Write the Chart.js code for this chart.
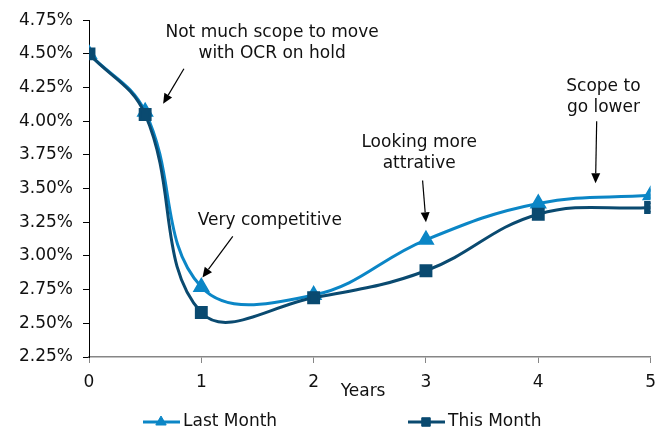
<!DOCTYPE html>
<html>
<head>
<meta charset="utf-8">
<script src="https://cdn.jsdelivr.net/npm/chart.js@4.4.1/dist/chart.umd.min.js"></script>
<style>
  html, body { margin: 0; padding: 0; background: #fff; }
  #wrap { width: 665px; height: 432px; }
</style>
</head>
<body>
<div id="wrap"><canvas id="rates"></canvas></div>
<script>
// Term deposit rate curve, last month vs this month

const YEARS = [0, 0.5, 1, 2, 3, 4, 5];
const LAST_MONTH = [4.50, 4.07, 2.77, 2.71, 3.12, 3.39, 3.45];
const THIS_MONTH = [4.50, 4.05, 2.58, 2.69, 2.89, 3.31, 3.36];
const SERIES_NAMES = ['Last Month', 'This Month'];
const X_TITLE = 'Years';

// callouts: text lines anchored in data units, arrow from -> to
const NOTES = [
  { lines: ['Not much scope to move', 'with OCR on hold'], at: [1.63, 4.66], from: [0.845, 4.39], to: [0.66, 4.13] },
  { lines: ['Very competitive'], at: [1.61, 3.26], from: [1.28, 3.145], to: [1.01, 2.84] },
  { lines: ['Looking more', 'attrative'], at: [2.94, 3.84], from: [2.97, 3.56], to: [3.0, 3.25] },
  { lines: ['Scope to', 'go lower'], at: [4.58, 4.26], from: [4.52, 4.0], to: [4.51, 3.54] }
];

const LIGHT = '#0b86c6';
const DARK = '#0a4a70';
const FONT = 'DejaVu Sans, Verdana, sans-serif';

const calloutPlugin = {
  id: 'callouts',
  afterDatasetsDraw(chart) {
    const ctx = chart.ctx;
    const xs = chart.scales.x, ys = chart.scales.y;
    ctx.save();
    ctx.font = '17px ' + FONT;
    ctx.fillStyle = '#111';
    ctx.textAlign = 'center';
    ctx.textBaseline = 'middle';
    NOTES.forEach(n => {
      const tx = xs.getPixelForValue(n.at[0]);
      const ty = ys.getPixelForValue(n.at[1]);
      n.lines.forEach((l, i) => ctx.fillText(l, tx, ty + i * 21));

      const x1 = xs.getPixelForValue(n.from[0]), y1 = ys.getPixelForValue(n.from[1]);
      const x2 = xs.getPixelForValue(n.to[0]), y2 = ys.getPixelForValue(n.to[1]);
      const ang = Math.atan2(y2 - y1, x2 - x1);
      const head = 10, half = 4.5;
      ctx.strokeStyle = '#000';
      ctx.lineWidth = 1.2;
      ctx.beginPath();
      ctx.moveTo(x1, y1);
      ctx.lineTo(x2 - Math.cos(ang) * head, y2 - Math.sin(ang) * head);
      ctx.stroke();
      ctx.fillStyle = '#000';
      ctx.beginPath();
      ctx.moveTo(x2, y2);
      ctx.lineTo(x2 - Math.cos(ang) * head - Math.sin(ang) * half, y2 - Math.sin(ang) * head + Math.cos(ang) * half);
      ctx.lineTo(x2 - Math.cos(ang) * head + Math.sin(ang) * half, y2 - Math.sin(ang) * head - Math.cos(ang) * half);
      ctx.closePath();
      ctx.fill();
      ctx.fillStyle = '#111';
    });

    // axis title sits on the tick-label row, as in the original
    ctx.fillText(X_TITLE, xs.getPixelForValue(2.44), xs.bottom - 40);
    ctx.restore();
  },
  afterDraw(chart) {
    // legend: line + marker, then label
    const ctx = chart.ctx;
    const items = [
      { x: 143, ds: chart.data.datasets[0] },
      { x: 408, ds: chart.data.datasets[1] }
    ];
    const y = 422;
    ctx.save();
    items.forEach(it => {
      ctx.strokeStyle = it.ds.borderColor;
      ctx.lineWidth = 3;
      ctx.beginPath();
      ctx.moveTo(it.x, y);
      ctx.lineTo(it.x + 37, y);
      ctx.stroke();
      ctx.fillStyle = it.ds.pointBackgroundColor;
      ctx.strokeStyle = it.ds.borderColor;
      ctx.lineWidth = 1;
      Chart.helpers.drawPoint(ctx, { pointStyle: it.ds.pointStyle, radius: it.ds.pointRadius - 1, borderWidth: 1 }, it.x + 18, y);
      ctx.fillStyle = '#111';
      ctx.font = '17px ' + FONT;
      ctx.textAlign = 'left';
      ctx.textBaseline = 'middle';
      ctx.fillText(it.ds.label, it.x + 40, y);
    });
    ctx.restore();
  }
};

function toPoints(vals) {
  return YEARS.map((x, i) => ({ x: x, y: vals[i] }));
}

new Chart(document.getElementById('rates'), {
  type: 'line',
  data: {
    datasets: [
      {
        label: SERIES_NAMES[0],
        data: toPoints(LAST_MONTH),
        borderColor: LIGHT,
        backgroundColor: LIGHT,
        pointBackgroundColor: LIGHT,
        pointStyle: 'triangle',
        pointRadius: 7,
        borderWidth: 3,
        tension: 0.4,
        order: 2
      },
      {
        label: SERIES_NAMES[1],
        data: toPoints(THIS_MONTH),
        borderColor: DARK,
        backgroundColor: DARK,
        pointBackgroundColor: DARK,
        pointStyle: 'rect',
        pointRadius: 7,
        borderWidth: 3,
        tension: 0.4,
        order: 1
      }
    ]
  },
  options: {
    responsive: true,
    maintainAspectRatio: false,
    animation: false,
    layout: { padding: { top: 18, right: 14, left: 0, bottom: 0 } },
    plugins: { legend: { display: false }, tooltip: { enabled: false } },
    scales: {
      x: {
        type: 'linear',
        min: 0, max: 5,
        ticks: { stepSize: 1, color: '#111', font: { family: FONT, size: 17 }, padding: 9 },
        grid: { drawOnChartArea: false, tickLength: 6, color: '#868686' },
        border: { color: '#868686', width: 1.5 },
        afterFit(s) { s.height = 75; }
      },
      y: {
        min: 2.25, max: 4.75,
        ticks: {
          stepSize: 0.25,
          color: '#111',
          font: { family: FONT, size: 17 },
          padding: 10,
          callback: v => v.toFixed(2) + '%'
        },
        grid: { drawOnChartArea: false, tickLength: 6, color: '#000' },
        border: { color: '#000', width: 1 },
        afterFit(s) { s.width = 89; }
      }
    }
  },
  plugins: [calloutPlugin]
});
</script>
</body>
</html>
